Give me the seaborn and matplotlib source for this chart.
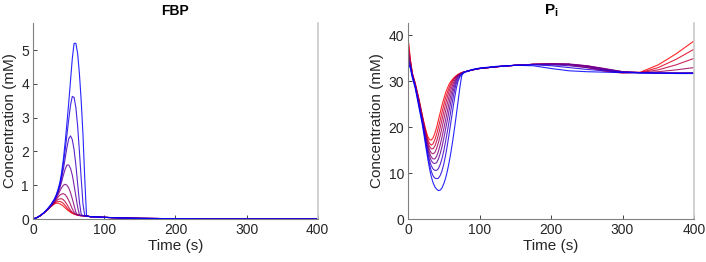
import numpy as np
import pandas as pd
import seaborn as sns
import matplotlib
matplotlib.use("Agg")
import matplotlib.pyplot as plt

# time grids (s)
t_fbp = [0, 5, 10, 15, 20, 25, 30, 32.5, 35, 37.5, 40, 42.5, 45, 47.5, 50, 52.5, 55,
         57.5, 60, 62.5, 65, 67.5, 70, 72.5, 75, 77.5, 80, 90, 100, 125, 150, 200,
         250, 300, 350, 400]
t_pi = [0, 1, 3, 6, 10, 15, 20, 22.5, 25, 27.5, 30, 32.5, 35, 37.5, 40, 42.5, 45,
        47.5, 50, 52.5, 55, 57.5, 60, 62.5, 65, 67.5, 70, 72.5, 75, 77.5, 80, 90, 100,
        125, 150, 175, 200, 225, 250, 275, 300, 325, 350, 375, 400]

# FBP (mM), curve 0 = red ... curve 8 = blue
fbp_0 = [0, 0.04, 0.10, 0.18, 0.27, 0.37, 0.45, 0.47, 0.47, 0.45, 0.42, 0.38, 0.33,
         0.28, 0.24, 0.20, 0.17, 0.15, 0.13, 0.12, 0.11, 0.10, 0.10, 0.09, 0.09, 0.08,
         0.07, 0.06, 0.05, 0.03, 0.02, 0.01, 0, 0, 0, 0]
fbp_1 = [0, 0.04, 0.10, 0.18, 0.27, 0.37, 0.46, 0.50, 0.52, 0.52, 0.50, 0.46, 0.40,
         0.33, 0.27, 0.22, 0.18, 0.15, 0.13, 0.12, 0.11, 0.10, 0.10, 0.09, 0.09, 0.08,
         0.07, 0.06, 0.05, 0.03, 0.02, 0.01, 0, 0, 0, 0]
fbp_2 = [0, 0.04, 0.10, 0.18, 0.27, 0.38, 0.48, 0.54, 0.58, 0.60, 0.60, 0.57, 0.51,
         0.43, 0.34, 0.26, 0.20, 0.16, 0.14, 0.12, 0.11, 0.10, 0.10, 0.09, 0.09, 0.08,
         0.07, 0.06, 0.05, 0.03, 0.02, 0.01, 0, 0, 0, 0]
fbp_3 = [0, 0.04, 0.10, 0.18, 0.27, 0.38, 0.50, 0.58, 0.65, 0.71, 0.74, 0.75, 0.72,
         0.65, 0.55, 0.43, 0.30, 0.20, 0.14, 0.12, 0.11, 0.10, 0.10, 0.09, 0.09, 0.08,
         0.07, 0.06, 0.05, 0.03, 0.02, 0.01, 0, 0, 0, 0]
fbp_4 = [0, 0.04, 0.10, 0.18, 0.28, 0.39, 0.53, 0.62, 0.72, 0.83, 0.93, 1.00, 1.03,
         1.00, 0.92, 0.78, 0.60, 0.40, 0.20, 0.12, 0.10, 0.10, 0.10, 0.09, 0.09, 0.08,
         0.07, 0.06, 0.05, 0.03, 0.02, 0.01, 0, 0, 0, 0]
fbp_5 = [0, 0.04, 0.10, 0.18, 0.28, 0.40, 0.55, 0.65, 0.77, 0.92, 1.10, 1.30, 1.48,
         1.60, 1.60, 1.50, 1.30, 1.00, 0.68, 0.35, 0.13, 0.10, 0.10, 0.09, 0.09, 0.08,
         0.07, 0.06, 0.05, 0.03, 0.02, 0.01, 0, 0, 0, 0]
fbp_6 = [0, 0.04, 0.10, 0.18, 0.28, 0.41, 0.57, 0.68, 0.81, 0.98, 1.20, 1.48, 1.80,
         2.12, 2.38, 2.46, 2.35, 2.05, 1.60, 1.05, 0.50, 0.14, 0.10, 0.09, 0.09, 0.08,
         0.07, 0.06, 0.05, 0.03, 0.02, 0.01, 0, 0, 0, 0]
fbp_7 = [0, 0.04, 0.10, 0.18, 0.29, 0.42, 0.58, 0.70, 0.84, 1.03, 1.30, 1.65, 2.05,
         2.50, 2.95, 3.37, 3.63, 3.60, 3.30, 2.75, 2.00, 1.20, 0.45, 0.10, 0.09, 0.08,
         0.07, 0.06, 0.05, 0.03, 0.02, 0.01, 0, 0, 0, 0]
fbp_8 = [0, 0.04, 0.10, 0.19, 0.30, 0.43, 0.60, 0.72, 0.88, 1.08, 1.38, 1.78, 2.28,
         2.85, 3.45, 4.10, 4.75, 5.20, 5.20, 4.90, 4.30, 3.50, 2.50, 1.20, 0.10, 0.08,
         0.07, 0.06, 0.05, 0.03, 0.02, 0.01, 0, 0, 0, 0]

# Pi (mM)
pi_0 = [38.8, 38.2, 35.0, 31.8, 29.6, 26.3,
        22.6, 20.8, 19.3, 18.0, 17.3, 17.2, 17.7, 18.7, 20.0, 21.6, 23.2, 24.8, 26.2,
        27.5, 28.5, 29.4, 30.0, 30.5, 30.9, 31.2, 31.5, 31.7, 31.9, 32.0, 32.1,
        32.5, 32.8, 33.2, 33.5, 33.7, 33.8, 33.6, 33.0, 32.2, 31.8, 32.0, 33.6, 36.0, 38.8]
pi_1 = [38.0, 37.6, 34.8, 31.7, 29.5, 26.2,
        22.4, 20.6, 18.9, 17.4, 16.5, 16.1, 16.4, 17.3, 18.5, 20.0, 21.6, 23.3, 24.9,
        26.4, 27.6, 28.7, 29.6, 30.3, 30.8, 31.2, 31.5, 31.7, 31.9, 32.0, 32.1,
        32.5, 32.8, 33.2, 33.5, 33.7, 33.8, 33.7, 33.2, 32.4, 31.9, 31.9, 33.0, 34.8, 37.0]
pi_2 = [37.0, 36.8, 34.5, 31.6, 29.4, 26.0,
        22.2, 20.4, 18.5, 16.9, 15.8, 15.3, 15.3, 15.9, 17.0, 18.4, 20.0, 21.7, 23.4,
        25.1, 26.6, 27.9, 29.0, 29.9, 30.6, 31.1, 31.4, 31.7, 31.9, 32.0, 32.1,
        32.5, 32.8, 33.2, 33.5, 33.7, 33.8, 33.7, 33.3, 32.6, 32.0, 31.9, 32.5, 33.6, 35.0]
pi_3 = [36.0, 36.0, 34.2, 31.5, 29.3, 25.8,
        22.0, 20.1, 18.1, 16.4, 15.1, 14.4, 14.2, 14.5, 15.4, 16.7, 18.2, 19.9, 21.7,
        23.5, 25.2, 26.8, 28.2, 29.3, 30.2, 30.9, 31.3, 31.6, 31.8, 32.0, 32.1,
        32.5, 32.8, 33.2, 33.5, 33.7, 33.8, 33.7, 33.4, 32.7, 32.1, 31.9, 32.1, 32.5, 33.0]
pi_4 = [35.0, 35.2, 34.0, 31.4, 29.2, 25.6,
        21.8, 19.8, 17.7, 15.9, 14.4, 13.5, 13.1, 13.1, 13.7, 14.8, 16.2, 17.9, 19.7,
        21.6, 23.5, 25.4, 27.1, 28.5, 29.7, 30.6, 31.2, 31.5, 31.8, 32.0, 32.1,
        32.5, 32.8, 33.2, 33.5, 33.7, 33.8, 33.8, 33.4, 32.8, 32.1, 31.9, 31.8, 31.8, 31.8]
pi_5 = [34.5, 34.6, 33.8, 31.3, 29.1, 25.4,
        21.6, 19.5, 17.3, 15.3, 13.7, 12.7, 12.2, 12.1, 12.3, 13.1, 14.3, 15.8, 17.6,
        19.6, 21.6, 23.7, 25.7, 27.5, 29.0, 30.2, 31.0, 31.4, 31.7, 31.9, 32.1,
        32.5, 32.8, 33.2, 33.5, 33.7, 33.8, 33.7, 33.3, 32.7, 32.1, 31.9, 31.8, 31.8, 31.8]
pi_6 = [34.0, 34.2, 33.5, 31.2, 29.0, 25.2,
        21.3, 19.1, 16.8, 14.6, 12.8, 11.6, 10.9, 10.6, 10.6, 11.0, 11.9, 13.2, 14.9,
        16.9, 19.1, 21.4, 23.8, 26.0, 28.0, 29.6, 30.6, 31.2, 31.6, 31.9, 32.1,
        32.5, 32.8, 33.2, 33.5, 33.7, 33.6, 33.4, 33.0, 32.5, 32.0, 31.9, 31.8, 31.8, 31.8]
pi_7 = [33.0, 33.8, 33.2, 31.0, 28.8, 24.9,
        21.0, 18.7, 16.2, 13.9, 11.9, 10.4, 9.4, 8.9, 8.8, 8.9, 9.5, 10.5, 12.0,
        13.9, 16.1, 18.6, 21.2, 23.8, 26.3, 28.5, 30.1, 31.0, 31.5, 31.8, 32.0,
        32.5, 32.8, 33.2, 33.5, 33.6, 33.4, 33.0, 32.6, 32.3, 32.0, 31.9, 31.8, 31.8, 31.8]
pi_8 = [32.0, 33.5, 33.0, 30.8, 28.5, 24.5,
        20.5, 18.1, 15.6, 13.2, 11.0, 9.2, 7.9, 7.0, 6.5, 6.2, 6.3, 6.8, 7.7,
        8.9, 10.5, 12.4, 14.6, 17.1, 19.8, 22.7, 25.7, 28.7, 31.2, 31.9, 32.1,
        32.6, 32.9, 33.3, 33.5, 33.4, 32.8, 32.3, 32.1, 32.0, 31.9, 31.8, 31.8, 31.7, 31.7]

fbp_curves = [fbp_0, fbp_1, fbp_2, fbp_3, fbp_4, fbp_5, fbp_6, fbp_7, fbp_8]
pi_curves = [pi_0, pi_1, pi_2, pi_3, pi_4, pi_5, pi_6, pi_7, pi_8]

n = len(fbp_curves)
colors = [(1 - k / (n - 1), 0, k / (n - 1)) for k in range(n)]


def long_form(t, curves):
    frames = []
    for k, c in enumerate(curves):
        frames.append(pd.DataFrame({"t": t, "y": c, "run": k}))
    return pd.concat(frames, ignore_index=True)


df_fbp = long_form(t_fbp, fbp_curves)
df_pi = long_form(t_pi, pi_curves)

sns.set_style("white")
plt.rcParams["font.family"] = ["Liberation Sans", "DejaVu Sans"]
plt.rcParams["mathtext.fontset"] = "custom"
plt.rcParams["mathtext.bf"] = "Liberation Sans:bold"
plt.rcParams["mathtext.rm"] = "Liberation Sans"

fig = plt.figure(figsize=(7.06, 2.62), dpi=100)
ax1 = fig.add_axes([0.047, 0.164, 0.403, 0.748])
ax2 = fig.add_axes([0.578, 0.164, 0.405, 0.748])

sns.lineplot(data=df_fbp, x="t", y="y", hue="run", palette=colors, estimator=None,
             legend=False, lw=0.8, alpha=0.85, ax=ax1)
sns.lineplot(data=df_pi, x="t", y="y", hue="run", palette=colors, estimator=None,
             legend=False, lw=0.8, alpha=0.85, ax=ax2)

ax1.set_ylim(0, 5.8)
ax1.set_yticks([0, 1, 2, 3, 4, 5])
ax1.set_title("FBP", fontsize=10, fontweight="bold", color="#000000", pad=6)
ax2.set_ylim(0, 42.7)
ax2.set_yticks([0, 10, 20, 30, 40])
ax2.set_title(r"$\mathbf{P_i}$", fontsize=11, color="#000000", pad=6)

for ax in (ax1, ax2):
    ax.set_xlim(0, 400)
    ax.set_xticks([0, 100, 200, 300, 400])
    ax.set_xlabel("Time (s)", fontsize=11, color="#262626", labelpad=1)
    ax.set_ylabel("Concentration (mM)", fontsize=11, color="#262626", labelpad=3)
    ax.tick_params(direction="in", length=3, width=0.6, colors="#262626",
                   labelsize=10, bottom=True, left=True, pad=3)
    ax.spines["top"].set_visible(False)
    for s in ("left", "bottom"):
        ax.spines[s].set_color("#808080")
        ax.spines[s].set_linewidth(0.8)
    ax.spines["right"].set_color("#c8c8c8")
    ax.spines["right"].set_linewidth(1.2)

fig.savefig("out.png", dpi=100)
